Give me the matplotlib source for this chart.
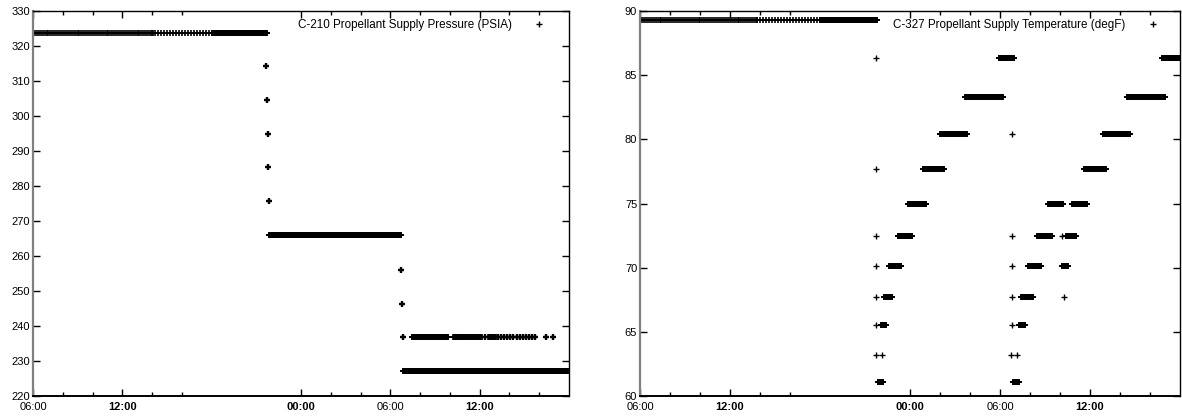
import numpy as np
import pandas as pd
import matplotlib
matplotlib.use("Agg")
import matplotlib.pyplot as plt
import matplotlib.dates as mdates
from matplotlib.ticker import FixedLocator

plt.rcParams['font.family'] = ['Liberation Sans', 'DejaVu Sans']

# time origin of both plots; all times below are hours after 06:00 on day 1
t0 = pd.Timestamp("2000-01-01 06:00")
span_h = 36

# runs of one constant reading: (start h, end h, value, sample spacing h)
pressure_runs = [
    (0.00, 8.00, 323.8, 0.13),
    (8.00, 12.00, 323.8, 0.20),
    (12.00, 15.72, 323.8, 0.02),
    (15.85, 24.71, 265.9, 0.02),
    (25.45, 27.87, 236.9, 0.02),
    (28.21, 30.15, 236.9, 0.05),
    (30.56, 31.09, 236.9, 0.05),
    (24.85, 36.00, 227.2, 0.02),
]
# single readings
pressure_spot_h = [15.65, 15.72, 15.78, 15.78, 15.85, 24.71, 24.78, 24.85,
                   30.36, 31.23, 31.43, 31.63, 31.83, 32.04, 32.24, 32.50,
                   32.71, 32.91, 33.11, 33.31, 33.51, 33.71, 34.45, 34.92]
pressure_spot_v = [314.2, 304.6, 295.0, 285.3, 275.6, 256.0, 246.4, 236.9,
                   236.9, 236.9, 236.9, 236.9, 236.9, 236.9, 236.9, 236.9,
                   236.9, 236.9, 236.9, 236.9, 236.9, 236.9, 236.9, 236.9]

temp_runs = [
    (0.00, 7.80, 89.3, 0.13),
    (7.80, 12.00, 89.3, 0.20),
    (12.00, 15.80, 89.3, 0.02),
    # first warm-up
    (15.87, 16.20, 61.1, 0.02),
    (16.07, 16.40, 65.5, 0.02),
    (16.27, 16.80, 67.7, 0.02),
    (16.60, 17.40, 70.1, 0.02),
    (17.20, 18.13, 72.5, 0.02),
    (17.87, 19.07, 75.0, 0.02),
    (18.87, 20.27, 77.7, 0.02),
    (20.00, 21.80, 80.4, 0.02),
    (21.67, 24.20, 83.3, 0.02),
    (23.93, 24.93, 86.3, 0.02),
    # second warm-up
    (24.87, 25.27, 61.1, 0.02),
    (25.27, 25.67, 65.5, 0.02),
    (25.40, 26.20, 67.7, 0.02),
    (25.87, 26.73, 70.1, 0.02),
    (26.47, 27.47, 72.5, 0.02),
    (27.20, 28.20, 75.0, 0.02),
    (28.13, 28.53, 70.1, 0.02),
    (28.40, 29.07, 72.5, 0.02),
    (28.80, 29.80, 75.0, 0.02),
    (29.60, 31.07, 77.7, 0.02),
    (30.87, 32.67, 80.4, 0.02),
    (32.47, 35.00, 83.3, 0.02),
    (34.80, 36.00, 86.3, 0.02),
]
temp_spot_h = [15.73, 15.73, 15.73, 15.73, 15.73, 15.73, 15.73, 16.10,
               24.80, 24.80, 24.80, 24.80, 24.80, 24.73, 25.13, 28.13, 28.27]
temp_spot_v = [86.3, 77.7, 72.5, 70.1, 67.7, 65.5, 63.2, 63.2,
               80.4, 72.5, 70.1, 67.7, 65.5, 63.2, 63.2, 72.5, 67.7]

major_h = [0, 6, 18, 24, 30]
major_labels = ["06:00", "12:00", "00:00", "06:00", "12:00"]
bold_labels = [False, True, True, False, True]
minor_h = [2, 4, 8, 10, 20, 22, 26, 28, 32, 34]


def expand(runs):
    hs, vs = [], []
    for a, b, v, step in runs:
        h = np.arange(a, b + step / 2, step)
        hs.append(h)
        vs.append(np.full(len(h), v))
    return np.concatenate(hs), np.concatenate(vs)


def to_time(h):
    return t0 + pd.to_timedelta(np.asarray(h, dtype=float), unit="h")


def draw(ax, runs, spot_h, spot_v, label, ylim, yticks, spot_mew, leg_shift):
    h, v = expand(runs)
    ax.plot(to_time(h), v, linestyle="none", marker="+", color="black",
            ms=4.8, mew=1.2, label=label)
    ax.plot(to_time(spot_h), spot_v, linestyle="none", marker="+",
            color="black", ms=5, mew=spot_mew)

    ax.set_xlim(to_time([0])[0], to_time([span_h])[0])
    ax.set_ylim(*ylim)
    ax.set_yticks(yticks)
    ax.set_yticklabels([str(t) for t in yticks])

    ax.xaxis.set_major_locator(FixedLocator(mdates.date2num(to_time(major_h))))
    ax.xaxis.set_minor_locator(FixedLocator(mdates.date2num(to_time(minor_h))))
    ax.set_xticklabels(major_labels)
    for lab, b in zip(ax.get_xticklabels(), bold_labels):
        lab.set_fontweight("bold" if b else "normal")

    ax.tick_params(axis="both", which="both", direction="in", top=True,
                   right=True, labelsize=8, colors="black")
    ax.tick_params(axis="x", which="major", length=5, width=1, pad=4)
    ax.tick_params(axis="x", which="minor", length=3, width=1)
    ax.tick_params(axis="y", which="major", length=5, width=1, pad=2)

    for s in ["top", "right", "bottom"]:
        ax.spines[s].set_color("black")
        ax.spines[s].set_linewidth(1.0)
    ax.spines["left"].set_color("#808080")
    ax.spines["left"].set_linewidth(1.6)
    ax.spines["bottom"].set_linewidth(1.4)

    leg = ax.legend(loc="upper right", frameon=False, markerfirst=False,
                    fontsize=8.4, handlelength=1.5, handletextpad=1.6,
                    borderaxespad=0.3, bbox_to_anchor=(1 - leg_shift, 1))
    leg.legend_handles[0].set_markeredgewidth(1.0)
    leg.legend_handles[0].set_markersize(4.5)


fig = plt.figure(figsize=(11.82, 4.17), dpi=100)
ax1 = fig.add_axes([33 / 1182, 21 / 417, 536 / 1182, 385 / 417])
ax2 = fig.add_axes([640 / 1182, 21 / 417, 540 / 1182, 385 / 417])

draw(ax1, pressure_runs, pressure_spot_h, pressure_spot_v,
     "C-210 Propellant Supply Pressure (PSIA)", (220, 330),
     list(range(220, 331, 10)), 1.7, 13 / 536)
draw(ax2, temp_runs, temp_spot_h, temp_spot_v,
     "C-327 Propellant Supply Temperature (degF)", (60, 90),
     list(range(60, 91, 5)), 1.0, 10 / 540)

fig.savefig("out.png", dpi=100, facecolor="white")
